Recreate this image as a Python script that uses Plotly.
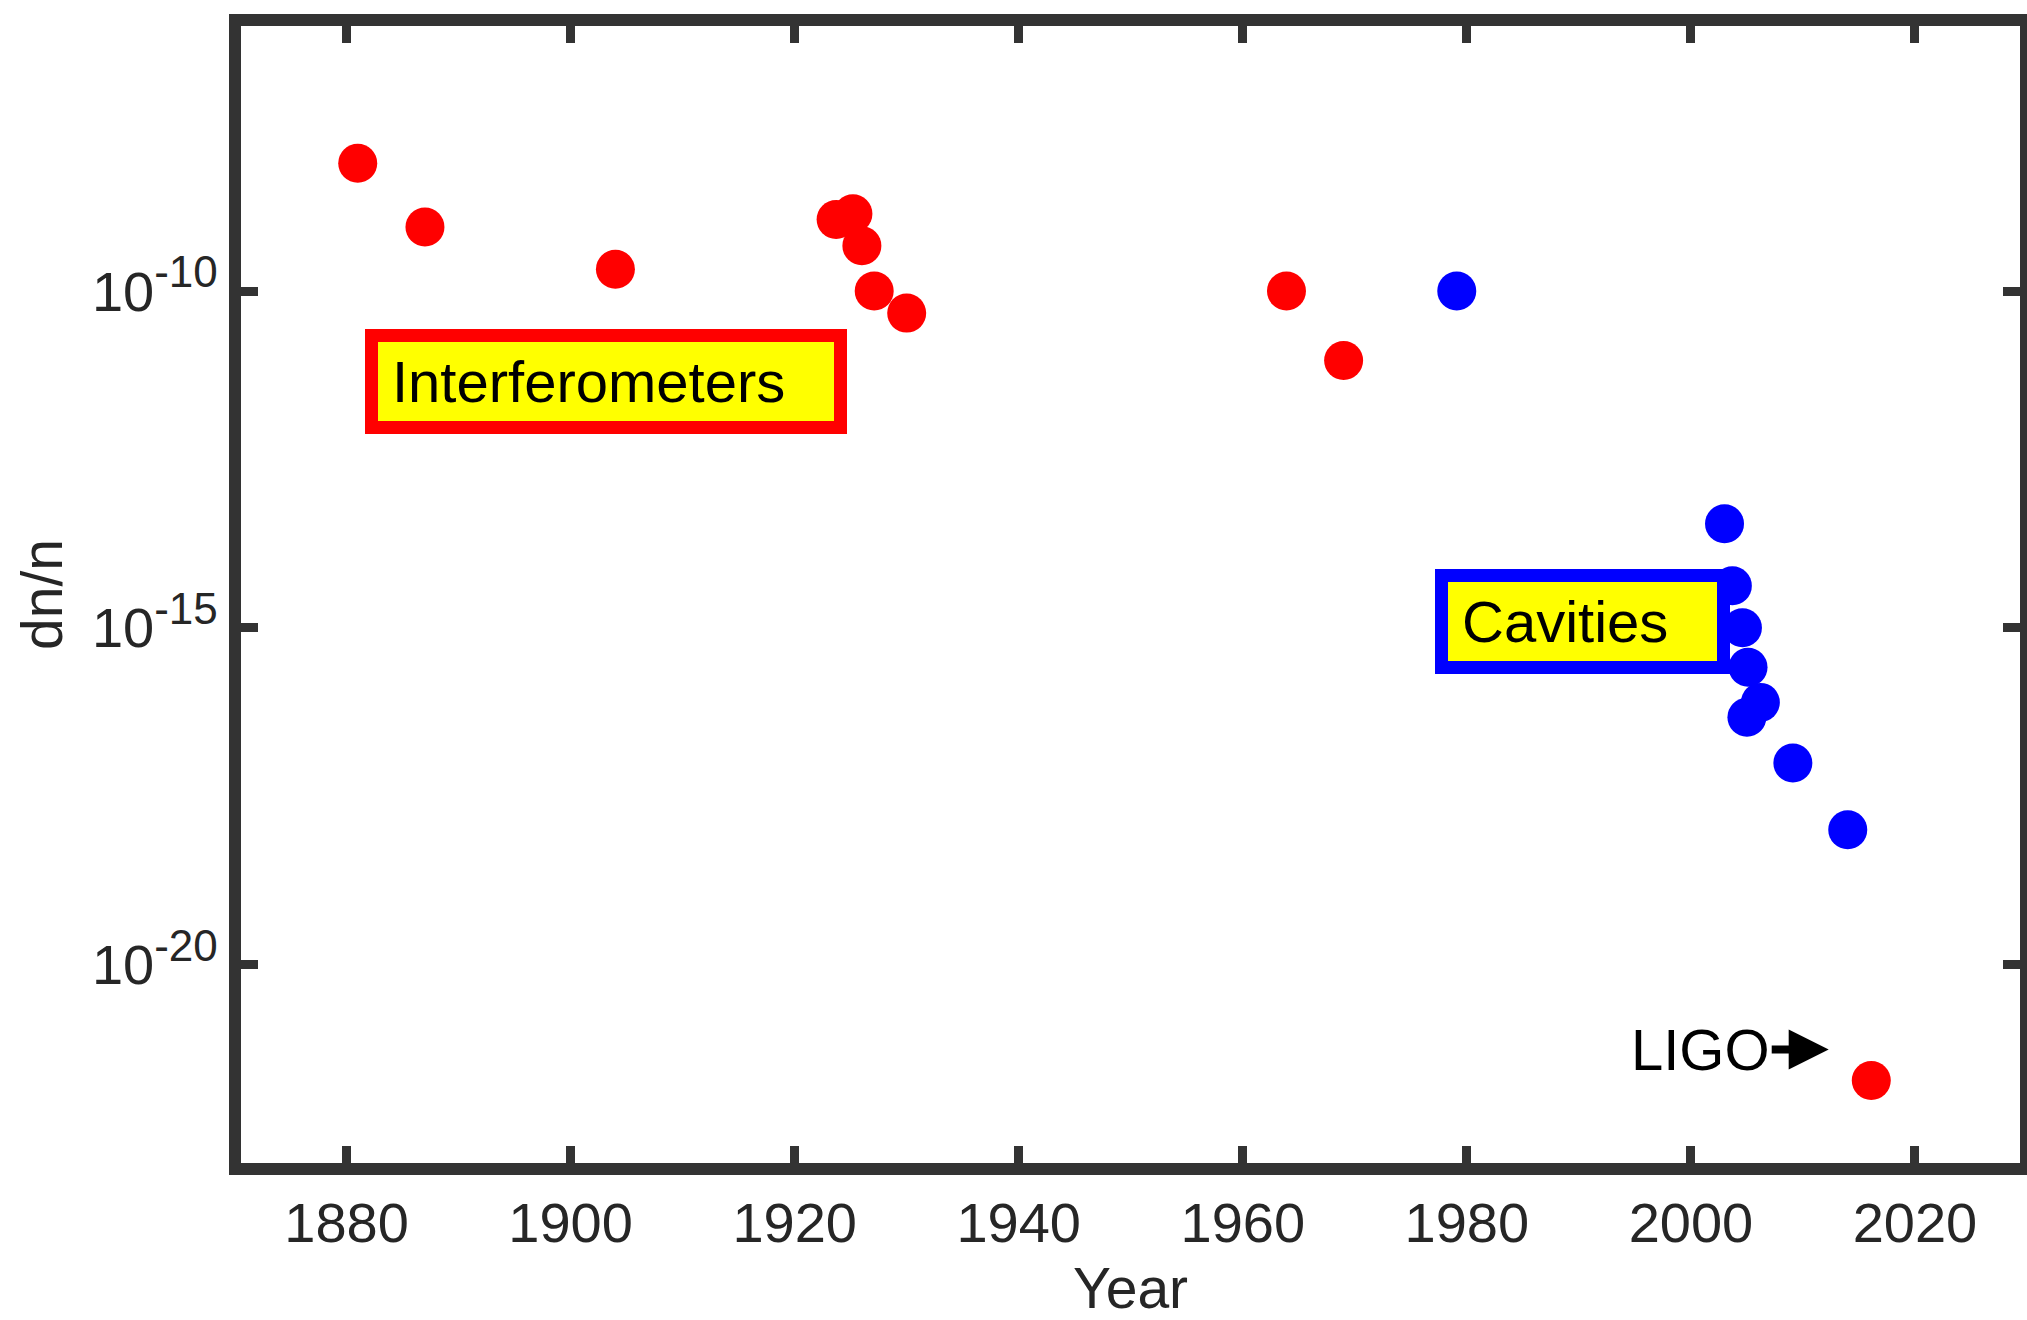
import plotly.graph_objects as go

# Fractional index sensitivity (dn/n) of optical tests over time
interf_years = [1881.0, 1887.0, 1904.0, 1923.7, 1925.2, 1926.0, 1927.1, 1930.0, 1963.9, 1969.0, 2016.1]
interf_dn_n = [7.9e-9, 8.9e-10, 2.1e-10, 1.15e-9, 1.4e-9, 4.7e-10, 1.0e-10, 4.7e-11, 1.0e-10, 9.3e-12, 1.9e-22]

cavity_years = [1979.1, 2003.0, 2003.7, 2004.6, 2005.1, 2006.2, 2005.0, 2009.1, 2014.0]
cavity_dn_n = [1.0e-10, 3.5e-14, 4.2e-15, 1.0e-15, 2.6e-16, 7.8e-17, 4.7e-17, 9.8e-18, 1.0e-18]

x_ticks = [1880, 1900, 1920, 1940, 1960, 1980, 2000, 2020]
y_ticks = [1e-20, 1e-15, 1e-10]
y_exponents = ["-20", "-15", "-10"]

FONT = "Liberation Sans, Arial, Helvetica, sans-serif"
AXIS_COLOR = "#333333"
TEXT_COLOR = "#262626"

y_tick_text = [
    f'10<sup><span style="font-size:44px">{e}</span></sup>' for e in y_exponents
]

fig = go.Figure()
fig.add_trace(go.Scatter(
    x=interf_years, y=interf_dn_n, mode="markers",
    marker=dict(color="#ff0000", size=39, line=dict(width=0)),
    showlegend=False,
))
fig.add_trace(go.Scatter(
    x=cavity_years, y=cavity_dn_n, mode="markers",
    marker=dict(color="#0000ff", size=39, line=dict(width=0)),
    showlegend=False,
))

# Labelled boxes
fig.add_annotation(
    x=1881.65, y=-11.34, xref="x", yref="y",
    xanchor="left", yanchor="middle",
    text="Interferometers", showarrow=False, align="left",
    width=428, height=51,
    font=dict(family=FONT, size=58, color="black"),
    bgcolor="#ffff00", bordercolor="#ff0000", borderwidth=13, borderpad=14,
)
fig.add_annotation(
    x=1977.2, y=-14.90, xref="x", yref="y",
    xanchor="left", yanchor="middle",
    text="Cavities", showarrow=False, align="left",
    width=241, height=51,
    font=dict(family=FONT, size=58, color="black"),
    bgcolor="#ffff00", bordercolor="#0000ff", borderwidth=13, borderpad=14,
)
fig.add_annotation(
    x=2012.3, y=-21.26, xref="x", yref="y",
    text="LIGO", showarrow=True, ax=-128, ay=0,
    arrowhead=2, arrowsize=1.0, arrowwidth=8, arrowcolor="black",
    font=dict(family=FONT, size=58, color="black"),
)

fig.update_xaxes(
    range=[1870.58, 2029.375], automargin=False,
    tickvals=x_ticks, ticktext=[str(v) for v in x_ticks],
    ticks="inside", ticklen=17, tickwidth=9, tickcolor=AXIS_COLOR,
    showline=True, linewidth=12, linecolor=AXIS_COLOR, mirror="ticks",
    showgrid=False, zeroline=False,
    tickfont=dict(family=FONT, size=56, color=TEXT_COLOR),
    title=dict(text="Year", font=dict(family=FONT, size=57, color=TEXT_COLOR), standoff=42),
)
fig.update_yaxes(
    type="log", range=[-22.947, -6.065], automargin=False,
    tickvals=y_ticks, ticktext=y_tick_text,
    ticks="inside", ticklen=17, tickwidth=9, tickcolor=AXIS_COLOR,
    showline=True, linewidth=12, linecolor=AXIS_COLOR, mirror="ticks",
    showgrid=False, zeroline=False,
    tickfont=dict(family=FONT, size=56, color=TEXT_COLOR),
    title=dict(text="dn/n", font=dict(family=FONT, size=57, color=TEXT_COLOR), standoff=16),
)

fig.update_layout(
    width=2027, height=1320,
    margin=dict(l=241, r=7, t=26, b=157, autoexpand=False),
    paper_bgcolor="white", plot_bgcolor="white",
    font=dict(family=FONT),
)

fig.write_html("out.html")
